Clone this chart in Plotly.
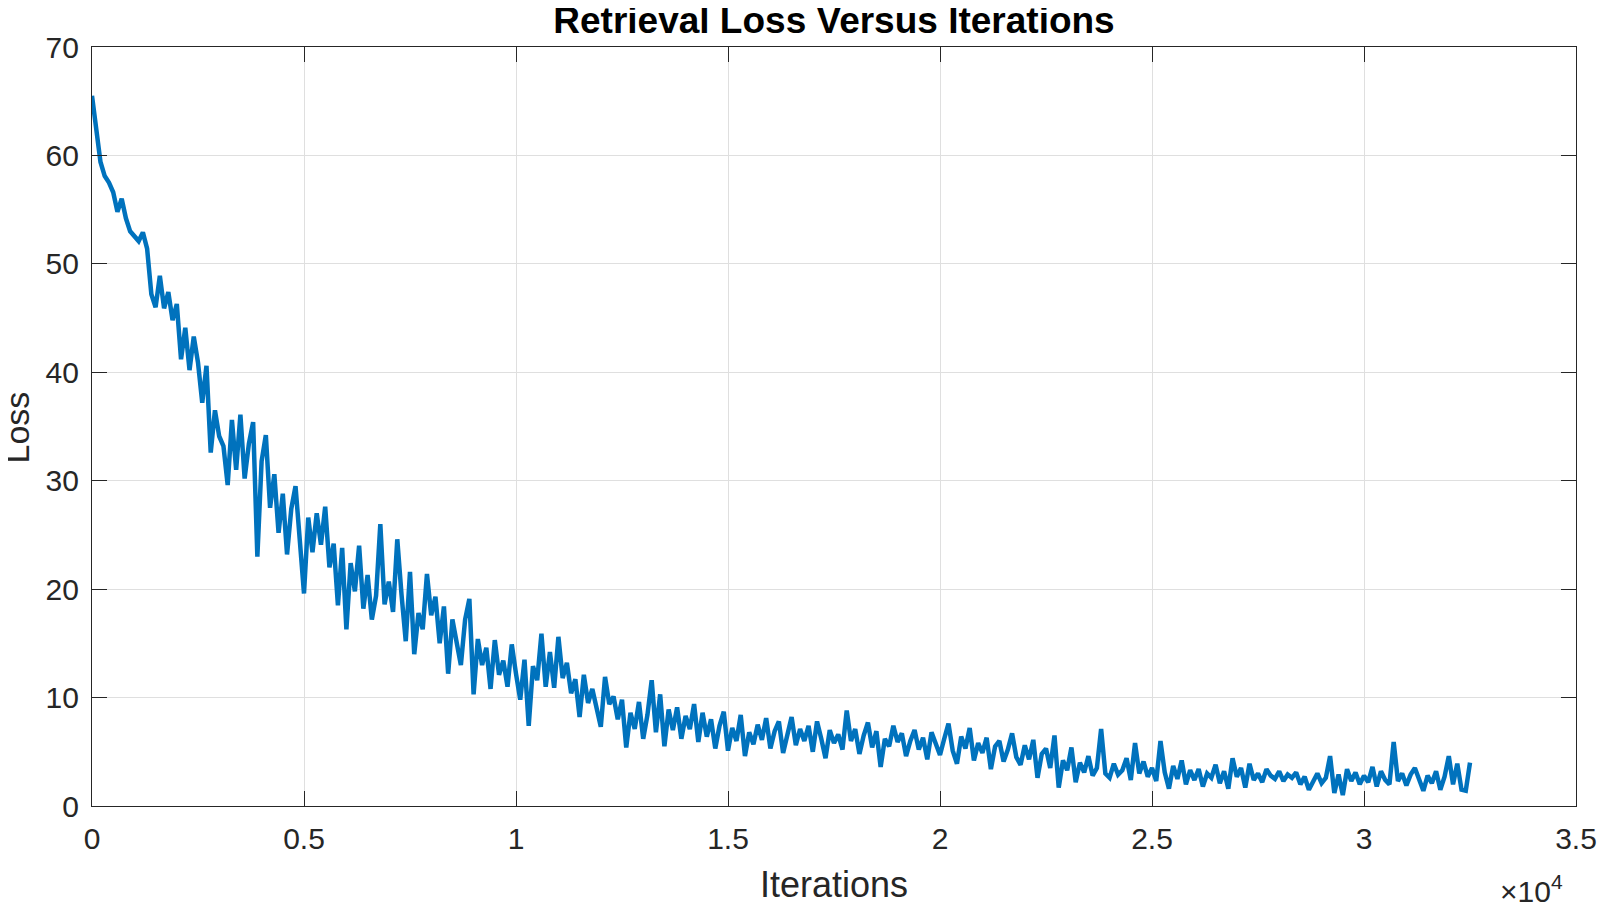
import plotly.graph_objects as go

step = 100
loss = [
    65.5, 62.0, 59.4, 58.1, 57.5, 56.6, 54.8, 56.0, 54.2, 53.0,
    52.6, 52.1, 52.9, 51.4, 47.2, 46.0, 48.9, 45.9, 47.4, 44.8,
    46.3, 41.2, 44.1, 40.2, 43.3, 40.9, 37.2, 40.6, 32.6, 36.5,
    34.1, 33.2, 29.6, 35.6, 31.0, 36.1, 30.2, 33.4, 35.4, 23.0,
    31.8, 34.2, 27.5, 30.6, 25.2, 28.8, 23.2, 27.4, 29.5, 24.8,
    19.6, 26.6, 23.4, 27.0, 24.1, 27.6, 22.0, 24.2, 18.5, 23.8,
    16.3, 22.4, 19.8, 24.0, 18.2, 21.3, 17.2, 19.4, 26.0, 18.6,
    20.7, 17.9, 24.6, 19.5, 15.2, 21.6, 14.0, 17.8, 16.3, 21.4,
    17.6, 19.3, 15.0, 18.4, 12.2, 17.2, 15.3, 13.0, 17.2, 19.1,
    10.3, 15.4, 13.0, 14.6, 10.8, 15.3, 12.1, 13.4, 11.0, 14.9,
    12.2, 9.8, 13.5, 7.4, 12.9, 11.6, 15.9, 11.0, 14.2, 10.9,
    15.6, 11.8, 13.2, 10.4, 11.7, 8.2, 12.1, 9.5, 10.8, 8.9,
    7.3, 11.9, 9.4, 10.1, 8.0, 9.8, 5.4, 8.6, 7.1, 9.6,
    6.2, 8.4, 11.6, 6.8, 10.3, 5.5, 8.9, 7.0, 9.1, 6.2,
    8.3, 7.1, 9.4, 5.9, 8.6, 6.4, 8.0, 5.3, 7.4, 8.7,
    5.1, 7.2, 6.0, 8.4, 4.6, 6.8, 5.7, 7.5, 6.1, 8.1,
    5.3, 6.9, 7.8, 4.9, 6.4, 8.2, 5.6, 7.1, 6.0, 7.4,
    5.0, 7.8, 6.2, 4.4, 7.0, 5.8, 6.6, 5.2, 8.8, 6.0,
    7.1, 4.8, 6.5, 7.7, 5.4, 6.9, 3.6, 6.2, 5.5, 7.4,
    5.9, 6.7, 4.6, 6.0, 7.0, 5.2, 6.3, 4.3, 6.8, 5.6,
    4.7, 6.2, 7.6, 5.1, 3.9, 6.4, 5.3, 7.2, 4.2, 5.8,
    4.9, 6.3, 3.4, 5.5, 6.0, 4.1, 5.2, 6.7, 4.5, 3.8,
    5.6, 4.3, 6.1, 2.6, 4.8, 5.3, 3.5, 6.5, 1.7, 4.2,
    3.3, 5.4, 2.2, 4.0, 3.1, 4.6, 2.8, 3.5, 7.1, 3.0,
    2.6, 3.9, 2.9, 3.3, 4.4, 2.4, 5.8, 3.0, 4.1, 2.7,
    3.5, 2.3, 6.0, 3.1, 1.6, 3.7, 2.5, 4.2, 2.0, 3.3,
    2.4, 3.4, 1.8, 3.0, 2.6, 3.8, 2.1, 3.2, 1.6, 4.4,
    2.7, 3.5, 1.7, 3.9, 2.4, 3.0, 2.2, 3.4, 2.8, 2.5,
    3.2, 2.3, 2.9, 2.6, 3.1, 2.0, 2.7, 1.5, 2.2, 3.0,
    2.1, 2.6, 4.6, 1.2, 2.9, 1.0, 3.4, 2.3, 3.1, 2.0,
    2.8, 2.2, 3.6, 1.8, 3.2, 2.4, 2.0, 5.9, 2.3, 3.0,
    1.9, 2.9, 3.5, 2.5, 1.4, 2.8, 2.1, 3.2, 1.5, 2.7,
    4.6, 2.0, 3.9, 1.5, 1.4, 4.0,
]
iterations = [i * step for i in range(len(loss))]

x_tickvals = [0, 5000, 10000, 15000, 20000, 25000, 30000, 35000]
x_ticktext = ["0", "0.5", "1", "1.5", "2", "2.5", "3", "3.5"]
y_tickvals = [0, 10, 20, 30, 40, 50, 60, 70]

axis_color = "#262626"
grid_color = "#dfdfdf"
font_family = "Liberation Sans, Arial, Helvetica, sans-serif"

L, R, T, B = 84, 52, 39, 122
W, H = 1620, 920
pw, ph = W - L - R, H - T - B

fig = go.Figure()
fig.add_trace(go.Scatter(
    x=iterations, y=loss, mode="lines",
    line=dict(color="#0072BD", width=4.5),
    showlegend=False,
))

fig.update_layout(
    width=W, height=H,
    margin=dict(l=L, r=R, t=T, b=B, autoexpand=False),
    paper_bgcolor="white", plot_bgcolor="white",
    font=dict(family=font_family, color=axis_color, size=30),
    title=dict(text="<b>Retrieval Loss Versus Iterations</b>",
               x=(L + pw / 2) / W, xanchor="center",
               y=1 - 12 / H, yanchor="middle",
               font=dict(size=37, color="black")),
)
common = dict(
    showline=True, linecolor=axis_color, linewidth=1.2, mirror="ticks",
    ticks="inside", ticklen=15, tickcolor=axis_color, tickwidth=1.2,
    showgrid=True, gridcolor=grid_color, gridwidth=1,
    zeroline=False, tickfont=dict(size=30), automargin=False,
)
fig.update_xaxes(range=[0, 35000], tickvals=x_tickvals, ticktext=x_ticktext,
                 ticklabelstandoff=6, **common)
fig.update_yaxes(range=[0, 70], tickvals=y_tickvals,
                 ticklabelstandoff=6, **common)

fig.add_annotation(
    text="Iterations", xref="paper", yref="paper",
    x=0.5, y=-79 / ph, xanchor="center", yanchor="middle",
    showarrow=False, font=dict(size=36, color=axis_color),
)
fig.add_annotation(
    text="Loss", xref="paper", yref="paper", textangle=-90,
    x=-74.5 / pw, y=0.498, xanchor="center", yanchor="middle",
    showarrow=False, font=dict(size=34, color=axis_color),
)
fig.add_annotation(
    text="×10<sup>4</sup>", xref="paper", yref="paper",
    x=(pw - 11) / pw, y=-83 / ph, xanchor="right", yanchor="middle",
    showarrow=False, font=dict(size=30, color=axis_color),
)
fig.write_html("out.html")
